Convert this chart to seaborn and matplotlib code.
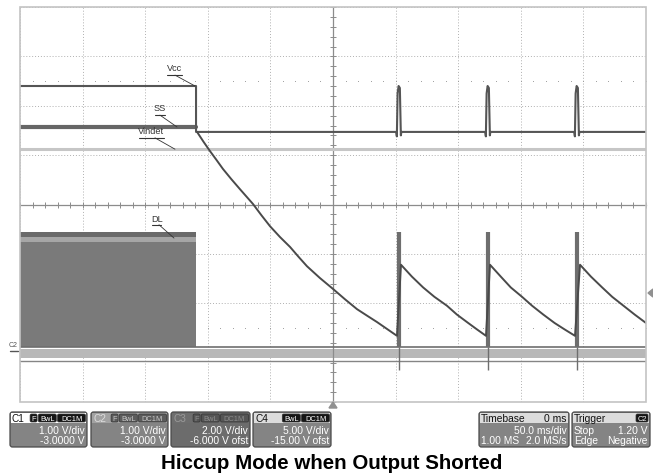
import matplotlib
matplotlib.use('Agg')
import matplotlib.pyplot as plt
import matplotlib.patches as mpatches
import numpy as np
import seaborn as sns

# ------------------------ data ------------------------ #
# time in ms (50 ms/div, 0 ms at centre), level in divisions from the centre line
vcc_t = [-250, -109.4, -109.4,
         50.5, 51.0, 51.6, 52.4, 53.4, 54.2, 54.6,
         121.6, 122.1, 122.7, 123.5, 124.5, 125.3, 125.7,
         192.7, 193.2, 193.8, 194.6, 195.6, 196.4, 196.8, 250]
vcc_v = [2.40, 2.40, 1.47,
         1.47, 1.38, 2.25, 2.40, 2.36, 1.40, 1.47,
         1.47, 1.38, 2.25, 2.40, 2.36, 1.40, 1.47,
         1.47, 1.38, 2.25, 2.40, 2.36, 1.40, 1.47, 1.47]

ss_t = [-250, -109.4]
ss_v = [1.57, 1.57]

vindet_t = [-250, 250]
vindet_v = [1.12, 1.12]

# discharge curve + hiccup sawtooth
decay_t = [-108.6, -103.4, -98.2, -93.0, -87.9, -81.1, -74.3, -63.9, -57.1, -50.3, -42.3, -34.3,
           -27.5, -20.8, -10.4, 0, 9.6, 19.2, 27.1, 35.1, 43.1, 51.1,
           54.3, 63, 72, 81, 91, 99, 108, 115, 122.2,
           125.4, 134, 142, 151, 159, 168, 177, 185, 193.3,
           197.3, 206, 215, 223, 232, 241, 250]
decay_v = [1.47, 1.27, 1.08, 0.90, 0.72, 0.51, 0.31, 0.01, -0.22, -0.44, -0.66, -0.86,
           -1.06, -1.25, -1.49, -1.71, -1.92, -2.12, -2.25, -2.38, -2.52, -2.66,
           -1.22, -1.46, -1.68, -1.87, -2.05, -2.23, -2.40, -2.53, -2.66,
           -1.22, -1.46, -1.68, -1.87, -2.05, -2.23, -2.40, -2.53, -2.66,
           -1.22, -1.46, -1.68, -1.87, -2.05, -2.23, -2.40]

# DL switching envelope and restart spikes
dl_on_t = [-250, -109.4]
dl_top = -0.56
dl_base = -2.88
spike_t = [52.7, 123.8, 194.9]
spike_top = [-0.56, -0.56, -0.56]

labels = ['Vcc', 'SS', 'Vindet', 'DL']
label_xy = [(-126.2, 2.77), (-138.2, 1.96), (-145.0, 1.50), (-140.6, -0.29)]
label_ul = [(-132.6, -120.6), (-142.4, -134.2), (-154.6, -134.6), (-144.6, -137.0)]
label_line = [((-126.2, 2.62), (-110.2, 2.40)),
              ((-138.2, 1.81), (-124.6, 1.57)),
              ((-142.2, 1.35), (-126.2, 1.12)),
              ((-139.0, -0.41), (-127.0, -0.68))]

channels = ['C1', 'C2', 'C3', 'C4']
ch_scale = ['1.00 V/div', '1.00 V/div', '2.00 V/div', '5.00 V/div']
ch_offset = ['-3.0000 V', '-3.0000 V', '-6.000 V ofst', '-15.00 V ofst']
ch_badges = [['F', 'BwL', 'DC1M'], ['F', 'BwL', 'DC1M'], ['F', 'BwL', 'DC1M'], ['BwL', 'DC1M']]

title = 'Hiccup Mode when Output Shorted'

# ------------------------ figure ------------------------ #
sns.set_style('white')
plt.rcParams['font.family'] = ['Liberation Sans', 'DejaVu Sans']

W, H = 653, 477
fig = plt.figure(figsize=(W / 100, H / 100), dpi=100)
ax = fig.add_axes([20 / W, 74 / H, 626 / W, 395 / H])
ax.set_xlim(-250, 250)
ax.set_ylim(-4, 4)

# graticule
ax.set_xticks(np.arange(-250, 251, 50))
ax.set_yticks(np.arange(-4, 5, 1))
ax.set_xticks(np.arange(-250, 251, 10), minor=True)
ax.set_yticks(np.arange(-4, 4.01, 0.2), minor=True)
ax.grid(True, which='major', ls=(0, (1, 2)), color='#b0b0b0', lw=0.7)
for s in ['top', 'right']:
    ax.spines[s].set_visible(False)
ax.spines['left'].set_position(('data', 0))
ax.spines['bottom'].set_position(('data', 0))
for s in ['left', 'bottom']:
    ax.spines[s].set_color('#8c8c8c')
    ax.spines[s].set_linewidth(0.9)
ax.tick_params(which='both', bottom=True, left=True, direction='inout', length=4.5, width=0.7,
               color='#8c8c8c', labelbottom=False, labelleft=False)
ax.add_patch(mpatches.Rectangle((0, 0), 1, 1, transform=ax.transAxes, fill=False,
                                ec='#c4c4c4', lw=1.2, clip_on=False, zorder=5))
dots = np.arange(-250, 251, 10)
for lvl in [2.5, -2.5]:
    ax.plot(dots, [lvl] * len(dots), ls='none', marker='s', ms=0.6, mew=0, color='#9a9a9a')

# DL envelope
ax.fill_between(dl_on_t, dl_base, -0.75, color='#7a7a7a', lw=0, zorder=2)
ax.fill_between(dl_on_t, -0.75, -0.65, color='#a6a6a6', lw=0, zorder=2)
ax.fill_between(dl_on_t, -0.65, dl_top, color='#6a6a6a', lw=0, zorder=2)
ax.fill_between([-250, 250], -3.10, -2.92, color='#b8b8b8', lw=0, zorder=2)
sns.lineplot(x=[-250, 250], y=[dl_base, dl_base], color='#6e6e6e', lw=1.2, ax=ax, zorder=3)
sns.lineplot(x=[-250, 250], y=[-3.16, -3.16], color='#858585', lw=1.0, ax=ax, zorder=3)
for st, sv in zip(spike_t, spike_top):
    ax.vlines(st, dl_base, sv, color='#6e6e6e', lw=3.0, zorder=3)
    ax.vlines(st, -3.35, dl_base, color='#6e6e6e', lw=1.0, zorder=3)

# traces
sns.lineplot(x=vindet_t, y=vindet_v, color='#c6c6c6', lw=2.2, ax=ax, zorder=3)
sns.lineplot(x=ss_t, y=ss_v, color='#666666', lw=3.0, ax=ax, zorder=4)
sns.lineplot(x=vcc_t, y=vcc_v, color='#555555', lw=1.5, sort=False, estimator=None, ax=ax, zorder=4)
sns.lineplot(x=decay_t, y=decay_v, color='#4a4a4a', lw=1.4, sort=False, estimator=None, ax=ax, zorder=4)

# trace labels with underline and leader
for lab, (tx, tv), (u0, u1), (p0, p1) in zip(labels, label_xy, label_ul, label_line):
    ax.text(tx, tv, lab, fontsize=6.6, ha='center', va='center', color='#333333', zorder=6)
    ax.plot([u0, u1], [p0[1], p0[1]], color='#333333', lw=0.8, zorder=6)
    ax.plot([p0[0], p1[0]], [p0[1], p1[1]], color='#333333', lw=0.6, zorder=6)

# ------------------------ overlay in pixel coords ------------------------ #
ui = fig.add_axes([0, 0, 1, 1], facecolor='none')
ui.set_xlim(0, W)
ui.set_ylim(H, 0)
ui.axis('off')

# markers round the screen
ui.text(13.5, 346, 'C2', fontsize=5, ha='center', va='center', color='#555555')
ui.plot([10, 18], [352, 352], color='#555555', lw=1.0)
ui.add_patch(mpatches.Polygon([[648, 294], [653, 290], [653, 298]], color='#909090'))
ui.add_patch(mpatches.Polygon([[333, 403], [329, 409], [337, 409]], color='#909090'))


def box(x0, x1, head_fc, body_fc, edge='#4a4a4a'):
    ui.add_patch(mpatches.FancyBboxPatch((x0, 413), x1 - x0, 35,
                                         boxstyle='round,pad=0,rounding_size=2.5',
                                         fc=body_fc, ec=edge, lw=0.9))
    ui.add_patch(mpatches.Rectangle((x0 + 0.8, 413.8), x1 - x0 - 1.6, 10.2, fc=head_fc, lw=0))


def badge(x0, x1, txt, fc, tc):
    ui.add_patch(mpatches.FancyBboxPatch((x0, 415), x1 - x0, 8,
                                         boxstyle='round,pad=0,rounding_size=1.5',
                                         fc=fc, ec='#333333', lw=0.5))
    ui.text((x0 + x1) / 2, 419.3, txt, fontsize=5.4, ha='center', va='center', color=tc)


box_x = [(10, 87), (91, 168), (171, 250), (253, 331)]
head_fc = ['#ffffff', '#a2a2a2', '#6e6e6e', '#dcdcdc']
body_fc = ['#848484', '#848484', '#6c6c6c', '#848484']
name_c = ['#111111', '#dddddd', '#9a9a9a', '#111111']
badge_fc = ['#151515', '#5c5c5c', '#555555', '#151515']
badge_tc = ['#ffffff', '#c8c8c8', '#8c8c8c', '#ffffff']
widths = {'F': 7, 'BwL': 18, 'DC1M': 28}

for i, ch in enumerate(channels):
    x0, x1 = box_x[i]
    box(x0, x1, head_fc[i], body_fc[i])
    ui.text(x0 + 2, 419.2, ch, fontsize=7.2, ha='left', va='center', color=name_c[i])
    # badges right-aligned inside the header
    bx = x1 - 1.5
    for b in reversed(ch_badges[i]):
        badge(bx - widths[b], bx, b, badge_fc[i], badge_tc[i])
        bx -= widths[b] + 1.2
    ui.text(x1 - 2, 431.5, ch_scale[i], fontsize=7.4, ha='right', va='center', color='#ffffff')
    ui.text(x1 - 2, 441.5, ch_offset[i], fontsize=7.4, ha='right', va='center', color='#ffffff')

# timebase box
box(479, 569, '#dcdcdc', '#848484')
ui.text(481, 419.2, 'Timebase', fontsize=7.4, ha='left', va='center', color='#111111')
ui.text(567, 419.2, '0 ms', fontsize=7.4, ha='right', va='center', color='#111111')
ui.text(567, 431.5, '50.0 ms/div', fontsize=7.4, ha='right', va='center', color='#ffffff')
ui.text(481, 441.5, '1.00 MS', fontsize=7.4, ha='left', va='center', color='#ffffff')
ui.text(567, 441.5, '2.0 MS/s', fontsize=7.4, ha='right', va='center', color='#ffffff')

# trigger box
box(572, 650, '#dcdcdc', '#848484')
ui.text(574, 419.2, 'Trigger', fontsize=7.4, ha='left', va='center', color='#111111')
badge(636, 648, 'C2', '#151515', '#ffffff')
ui.text(574, 431.5, 'Stop', fontsize=7.4, ha='left', va='center', color='#ffffff')
ui.text(648, 431.5, '1.20 V', fontsize=7.4, ha='right', va='center', color='#ffffff')
ui.text(574, 441.5, 'Edge', fontsize=7.4, ha='left', va='center', color='#ffffff')
ui.text(648, 441.5, 'Negative', fontsize=7.4, ha='right', va='center', color='#ffffff')

ui.text(332, 463.5, title, fontsize=14.8, fontweight='bold', ha='center', va='center', color='#000000')

fig.savefig('out.png', dpi=100)
